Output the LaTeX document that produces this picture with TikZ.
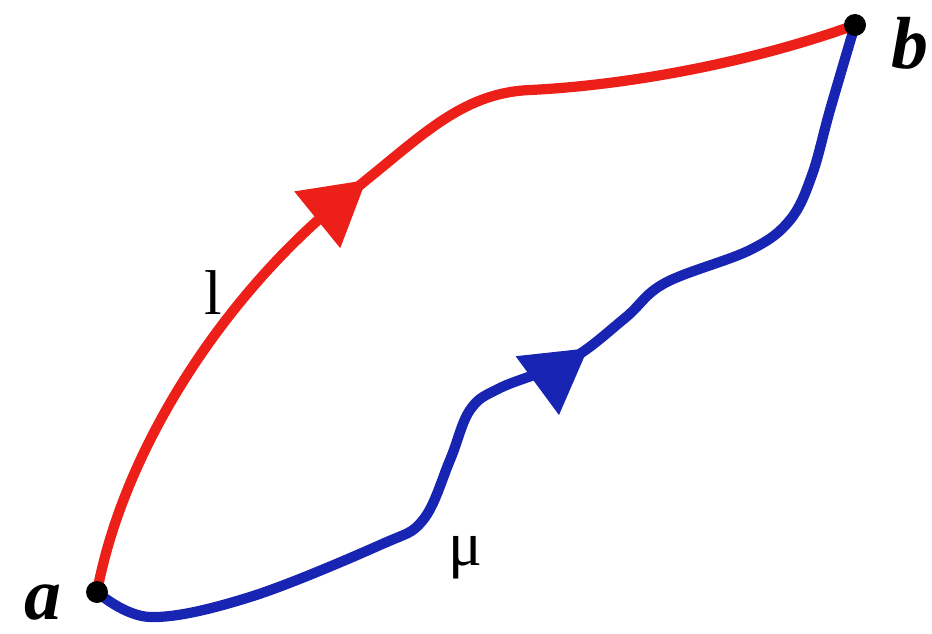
\documentclass[tikz,border=0pt]{standalone}
\usepackage{fontspec}
\setmainfont{Liberation Serif}
\usepackage{tikz}
\usetikzlibrary{arrows.meta,decorations.markings}
\definecolor{pathred}{RGB}{236,32,24}
\definecolor{pathblue}{RGB}{24,36,178}

\begin{document}
\begin{tikzpicture}[
  dot/.style={circle,fill=black,inner sep=0pt,minimum size=0.44cm},
  pathline/.style={line width=5.8pt,line cap=round},
  endlabel/.style={inner sep=0pt,font=\fontsize{42}{48}\selectfont\bfseries\itshape},
  pathlabel/.style={inner sep=0pt,font=\fontsize{36}{42}\selectfont},
  midarrow/.style={postaction={decorate},decoration={markings,
      mark=at position #1 with {\arrow{Triangle[length=36pt,width=40pt]}}}}]
  \useasboundingbox (0,0) rectangle (18.64,12.66);
  % end points
  \coordinate (pa) at (1.94,0.82);
  \coordinate (pb) at (17.1,12.16);
  % the two paths from a to b
  \draw[pathline,pathred,midarrow=0.49] (pa) .. controls (2.5,3.8) and (4.6,6.9) .. (7.0,8.8)
    .. controls (8.4,9.9) and (9.2,10.8) .. (10.6,10.86)
    .. controls (12.5,10.95) and (15,11.4) .. (pb);
  \draw[pathline,pathblue,midarrow=0.575] plot[smooth,tension=0.6] coordinates {(pa) (3.0,0.32) (5.0,0.72) (7.6,1.76) (8.46,2.26) (9.0,3.46) (9.4,4.46) (10.0,4.9) (11.4,5.46) (12.5,6.3) (13.3,7.0) (15.0,7.66) (15.8,8.26) (16.24,9.16) (16.6,10.46) (pb)};
  \node[dot] (a) at (pa) {};
  \node[dot] (b) at (pb) {};
  \node[endlabel] (la) at (0.86,0.6) {a};
  \node[endlabel] (lb) at (18.2,11.8) {b};
  \node[pathlabel] (ll) at (4.26,6.8) {l};
  \node[pathlabel] (lm) at (9.3,1.5) {μ};
\end{tikzpicture}
\end{document}
